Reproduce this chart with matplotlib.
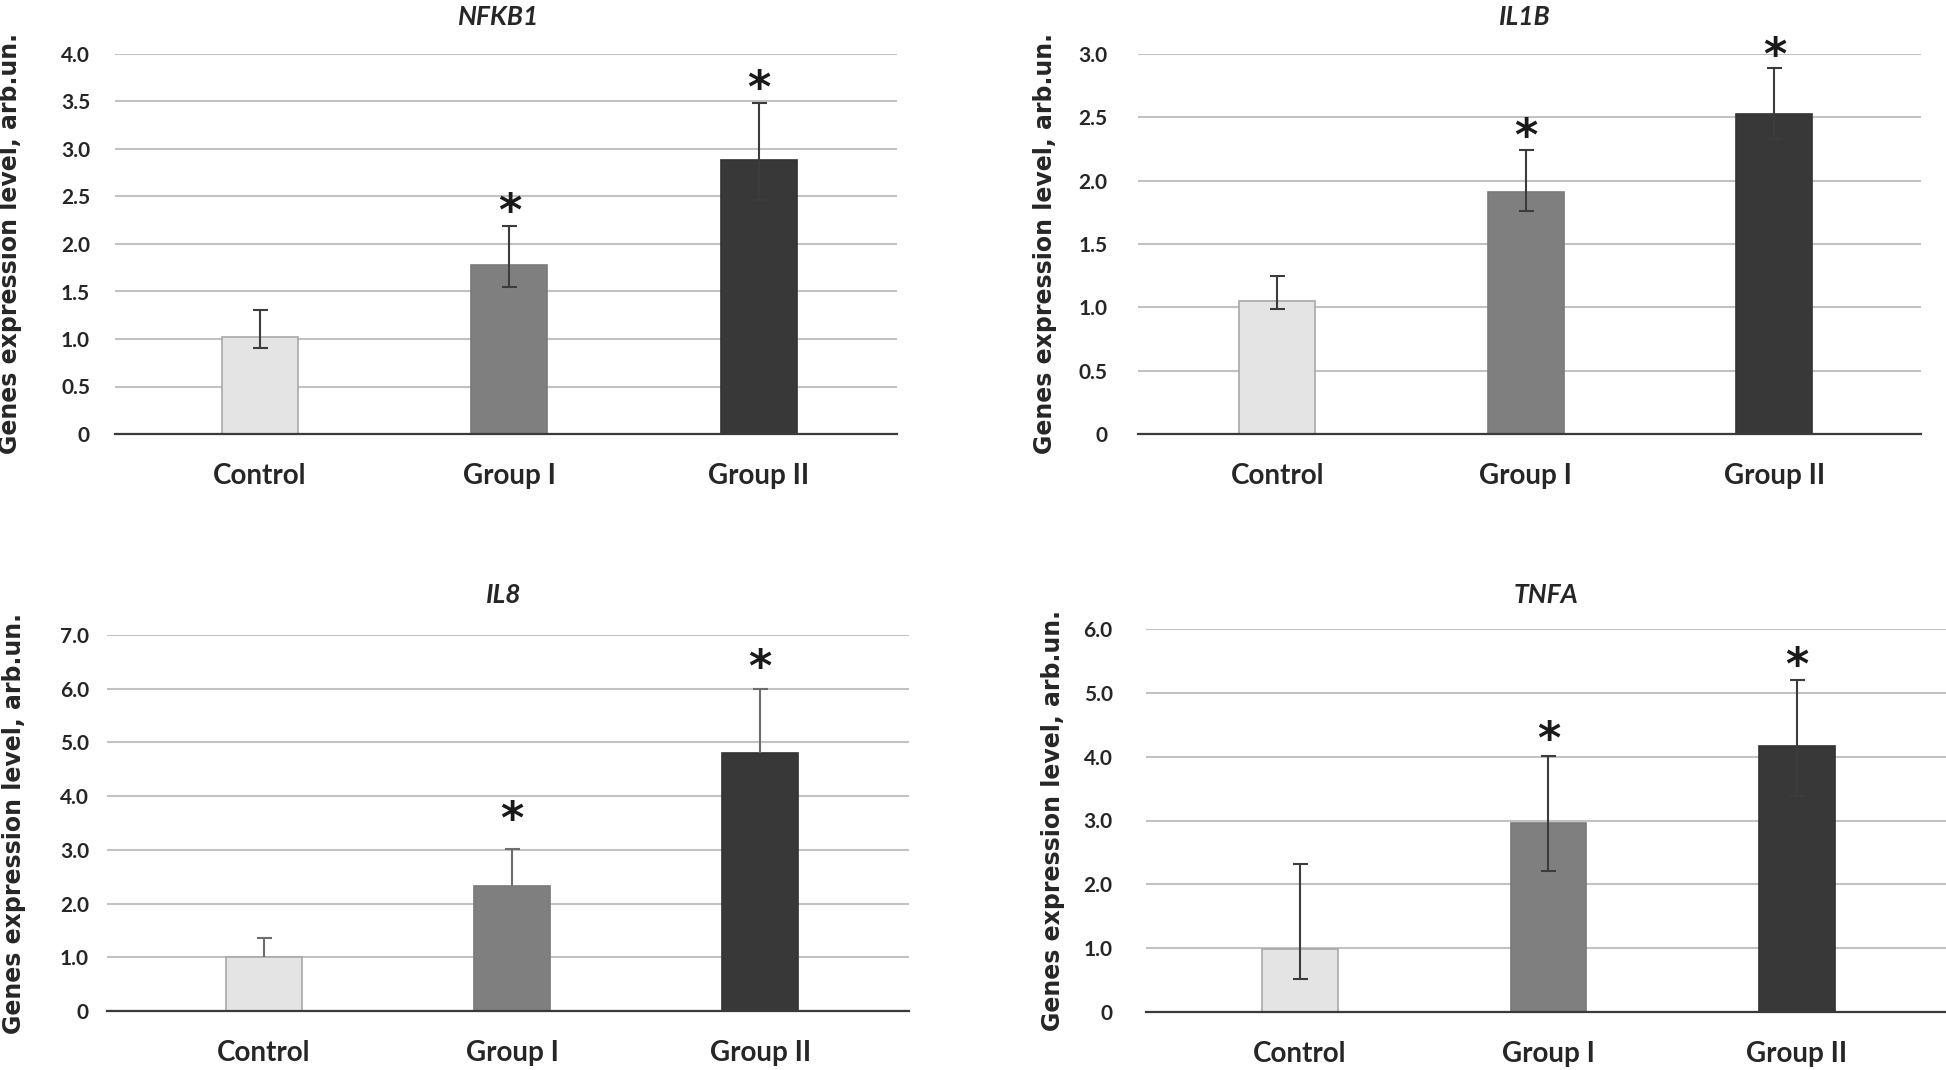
import matplotlib
matplotlib.use("Agg")
import matplotlib.pyplot as plt
import numpy as np

# --- data ---
GROUPS = ["Control", "Group I", "Group II"]
BAR_COLORS = ["#e4e4e4", "#7f7f7f", "#383838"]
BAR_EDGES = ["#a8a8a8", "#7a7a7a", "#333333"]

nfkb1_mean = [1.02, 1.78, 2.88]
nfkb1_low = [0.91, 1.55, 2.46]
nfkb1_high = [1.30, 2.19, 3.48]
nfkb1_star = [None, 2.33, 3.63]

il1b_mean = [1.05, 1.91, 2.53]
il1b_low = [0.99, 1.76, 2.33]
il1b_high = [1.25, 2.24, 2.89]
il1b_star = [None, 2.34, 2.98]

il8_mean = [1.01, 2.32, 4.80]
il8_low = [1.01, 2.32, 4.80]
il8_high = [1.36, 3.02, 6.00]
il8_star = [None, 3.55, 6.37]

tnfa_mean = [0.99, 2.96, 4.17]
tnfa_low = [0.52, 2.21, 3.39]
tnfa_high = [2.32, 4.01, 5.20]
tnfa_star = [None, 4.26, 5.42]

W, H = 1946, 1070
fig = plt.figure(figsize=(W / 100, H / 100), dpi=100)

# panel: (title, mean, low, high, star, ymax, step, rect px (left, top, right, bottom), xlim, tick pad, ylabel x, title xy, ecolor, only upper)
panels = [
    ("NFKB1", nfkb1_mean, nfkb1_low, nfkb1_high, nfkb1_star, 4.0, 0.5,
     (115, 54, 897, 434), (-0.58, 2.553), 18, -0.134, (0.491, 1.097), "#3c3c3c", False),
    ("IL1B", il1b_mean, il1b_low, il1b_high, il1b_star, 3.0, 0.5,
     (1138, 54, 1921, 434), (-0.56, 2.59), 22, -0.119, (0.494, 1.097), "#3c3c3c", False),
    ("IL8", il8_mean, il8_low, il8_high, il8_star, 7.0, 1.0,
     (107, 635, 909, 1011), (-0.633, 2.6), 13, -0.116, (0.495, 1.106), "#6e6e6e", True),
    ("TNFA", tnfa_mean, tnfa_low, tnfa_high, tnfa_star, 6.0, 1.0,
     (1146, 629, 1946, 1012), (-0.62, 2.6), 24, -0.116, (0.5, 1.089), "#3c3c3c", False),
]

for (title, mean, low, high, star, ymax, step, rect, xlim, tpad, ylx, txy, ecol, only_up) in panels:
    l, t, r, b = rect
    ax = fig.add_axes([l / W, 1 - b / H, (r - l) / W, (b - t) / H])
    x = np.arange(len(GROUPS))
    mean = np.array(mean)
    ax.bar(x, mean, width=0.305, color=BAR_COLORS, edgecolor=BAR_EDGES,
           linewidth=1.2, zorder=2)
    yerr = [mean - np.array(low), np.array(high) - mean]
    eb = ax.errorbar(x, mean, yerr=yerr, fmt="none", ecolor=ecol, elinewidth=1.5,
                     capsize=5.4, capthick=1.5, zorder=3)
    if only_up:
        eb[1][0].set_visible(False)  # IL8 shows only the upper whisker
    for xi, s in zip(x, star):
        if s is not None:
            ax.text(xi, s, "*", ha="center", va="center", fontsize=32,
                    fontweight="bold", family="DejaVu Sans", color="#1a1a1a", zorder=4)

    ax.set_xlim(*xlim)
    ax.set_ylim(0, ymax)
    ticks = np.arange(0, ymax + step / 2, step)
    ax.set_yticks(ticks)
    ax.set_yticklabels(["0"] + [f"{v:.1f}" for v in ticks[1:]])
    ax.set_xticks(x)
    ax.set_xticklabels(GROUPS)
    ax.tick_params(axis="y", length=0, pad=tpad, labelsize=15, labelcolor="#262626")
    ax.tick_params(axis="x", length=0, pad=21, labelsize=20, labelcolor="#262626")
    for lab in ax.get_yticklabels() + ax.get_xticklabels():
        lab.set_fontfamily("Lato")
        lab.set_fontweight("bold")

    ax.yaxis.grid(True, color="#c2c2c2", linewidth=1.5, zorder=0)
    ax.set_axisbelow(True)
    for sp in ["top", "left", "right"]:
        ax.spines[sp].set_visible(False)
    ax.spines["bottom"].set_color("#3a3a3a")
    ax.spines["bottom"].set_linewidth(1.6)
    ax.spines["bottom"].set_zorder(5)

    ax.set_ylabel("Genes expression level, arb.un.", fontsize=17, fontweight="bold",
                  family="DejaVu Sans", color="#262626", va="center")
    ax.yaxis.set_label_coords(ylx, 0.5)
    ax.text(txy[0], txy[1], title, transform=ax.transAxes, ha="center", va="center",
            fontsize=19, fontweight="bold", style="italic", family="Lato", color="#262626")

fig.savefig("out.png", dpi=100, facecolor="white")
